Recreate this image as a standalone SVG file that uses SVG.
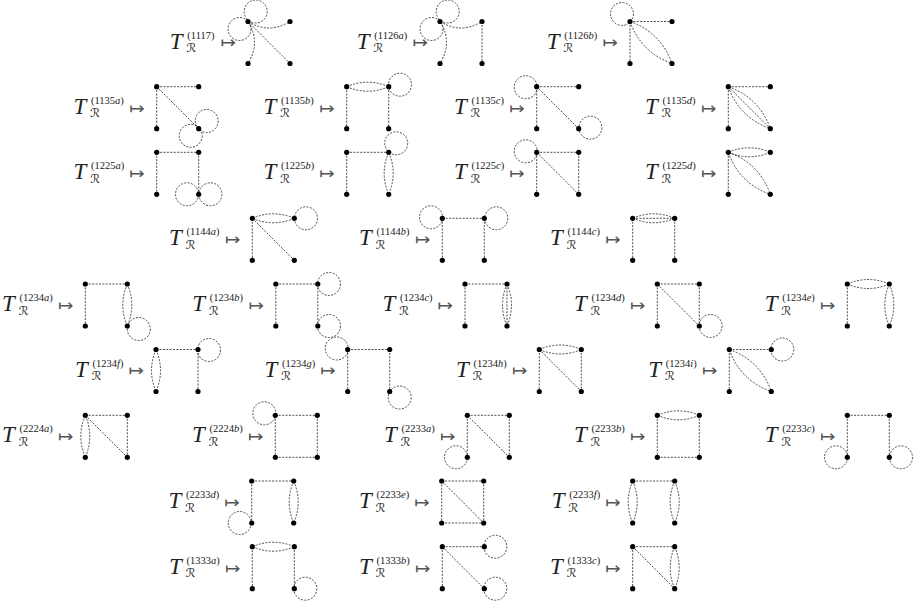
<svg xmlns="http://www.w3.org/2000/svg" xmlns:xlink="http://www.w3.org/1999/xlink" width="915" height="602" viewBox="0 0 915 602">
<style>
.lab{font-family:"Liberation Serif",serif;font-size:23px;font-style:italic;fill:#222}
.sup{font-size:10.5px;font-style:normal}
.it{font-style:italic}
.sub{font-family:"DejaVu Serif","DejaVu Sans",serif;font-size:12px;font-style:normal}
.arr{font-family:"DejaVu Sans",sans-serif;font-size:16px;fill:#555;text-anchor:end;transform-box:fill-box;transform-origin:right center;transform:scaleX(1.15)}
.e{fill:none;stroke:#111;stroke-width:0.75;stroke-dasharray:2 1.4}
.n{fill:#000}
</style>
<defs>
<path id="h" d="M0,0H42"/>
<path id="v" d="M0,0V42"/>
<path id="d" d="M0,0L42,42"/>
<path id="hl" d="M0,0Q21,-9 42,0M0,0Q21,9 42,0"/>
<path id="vl" d="M0,0Q9,21 0,42M0,0Q-9,21 0,42"/>
<path id="dl" d="M0,0Q31,11 42,42M0,0Q11,31 42,42"/>
<path id="cr" d="M0,0Q21,13 42,0"/>
<path id="cd" d="M0,0Q13,21 0,42"/>
<circle id="lp" r="11.5"/>
<g id="V" class="n"><circle r="2.6"/><circle cx="42" r="2.6"/><circle cy="42" r="2.6"/><circle cx="42" cy="42" r="2.6"/></g>
</defs>
<rect width="915" height="602" fill="#fff"/>

<g id="i1117"><text class="lab" transform="translate(169.8,42.5)"><tspan x="0" y="6">T</tspan><tspan class="sub" x="16.5" y="9.5">ℛ</tspan><tspan class="sup" x="17.5" y="-4">(1117)</tspan></text>
<g transform="translate(248,21.5)"><text class="arr" x="-12" y="27">↦</text><g class="e"><use href="#cr"/><use href="#cd"/><use href="#d"/><use href="#lp" x="7.7" y="-10"/><use href="#lp" x="-8.5" y="7.5"/></g><use href="#V"/></g></g>

<g id="i1126a"><text class="lab" transform="translate(356.8,42.5)"><tspan x="0" y="6">T</tspan><tspan class="sub" x="16.5" y="9.5">ℛ</tspan><tspan class="sup" x="17.5" y="-4">(1126<tspan class="it">a</tspan>)</tspan></text>
<g transform="translate(440,21.5)"><text class="arr" x="-12" y="27">↦</text><g class="e"><use href="#cr"/><use href="#cd"/><use href="#v" x="42"/><use href="#lp" x="7.7" y="-10"/><use href="#lp" x="-8.5" y="7.5"/></g><use href="#V"/></g></g>

<g id="i1126b"><text class="lab" transform="translate(546.8,42.5)"><tspan x="0" y="6">T</tspan><tspan class="sub" x="16.5" y="9.5">ℛ</tspan><tspan class="sup" x="17.5" y="-4">(1126<tspan class="it">b</tspan>)</tspan></text>
<g transform="translate(630,21.5)"><text class="arr" x="-12" y="27">↦</text><g class="e"><use href="#h"/><use href="#v"/><use href="#dl"/><use href="#lp" x="-8" y="-7.5"/></g><use href="#V"/></g></g>

<g id="i1135a"><text class="lab" transform="translate(73.5,107.7)"><tspan x="0" y="6">T</tspan><tspan class="sub" x="16.5" y="9.5">ℛ</tspan><tspan class="sup" x="17.5" y="-4">(1135<tspan class="it">a</tspan>)</tspan></text>
<g transform="translate(156.7,86.7)"><text class="arr" x="-12" y="27">↦</text><g class="e"><use href="#h"/><use href="#v"/><use href="#d"/><use href="#lp" x="50" y="34.3"/><use href="#lp" x="34" y="49.1"/></g><use href="#V"/></g></g>

<g id="i1135b"><text class="lab" transform="translate(263.5,107.7)"><tspan x="0" y="6">T</tspan><tspan class="sub" x="16.5" y="9.5">ℛ</tspan><tspan class="sup" x="17.5" y="-4">(1135<tspan class="it">b</tspan>)</tspan></text>
<g transform="translate(346.7,86.7)"><text class="arr" x="-12" y="27">↦</text><g class="e"><use href="#hl"/><use href="#v"/><use href="#v" x="42"/><use href="#lp" x="53.3" y="-2"/></g><use href="#V"/></g></g>

<g id="i1135c"><text class="lab" transform="translate(454.1,107.7)"><tspan x="0" y="6">T</tspan><tspan class="sub" x="16.5" y="9.5">ℛ</tspan><tspan class="sup" x="17.5" y="-4">(1135<tspan class="it">c</tspan>)</tspan></text>
<g transform="translate(536.7,86.7)"><text class="arr" x="-12" y="27">↦</text><g class="e"><use href="#h"/><use href="#v"/><use href="#d"/><use href="#lp" x="-11" y="0.5"/><use href="#lp" x="53.7" y="41"/></g><use href="#V"/></g></g>

<g id="i1135d"><text class="lab" transform="translate(645.1,107.7)"><tspan x="0" y="6">T</tspan><tspan class="sub" x="16.5" y="9.5">ℛ</tspan><tspan class="sup" x="17.5" y="-4">(1135<tspan class="it">d</tspan>)</tspan></text>
<g transform="translate(728.3,86.7)"><text class="arr" x="-12" y="27">↦</text><g class="e"><use href="#h"/><use href="#v"/><use href="#d"/><use href="#dl"/></g><use href="#V"/></g></g>

<g id="i1225a"><text class="lab" transform="translate(73.5,173.3)"><tspan x="0" y="6">T</tspan><tspan class="sub" x="16.5" y="9.5">ℛ</tspan><tspan class="sup" x="17.5" y="-4">(1225<tspan class="it">a</tspan>)</tspan></text>
<g transform="translate(156.7,152.3)"><text class="arr" x="-12" y="27">↦</text><g class="e"><use href="#h"/><use href="#v"/><use href="#v" x="42"/><use href="#lp" x="30.3" y="42"/><use href="#lp" x="53.7" y="42"/></g><use href="#V"/></g></g>

<g id="i1225b"><text class="lab" transform="translate(263.5,173.3)"><tspan x="0" y="6">T</tspan><tspan class="sub" x="16.5" y="9.5">ℛ</tspan><tspan class="sup" x="17.5" y="-4">(1225<tspan class="it">b</tspan>)</tspan></text>
<g transform="translate(346.7,152.3)"><text class="arr" x="-12" y="27">↦</text><g class="e"><use href="#h"/><use href="#v"/><use href="#vl" x="42"/><use href="#lp" x="49.5" y="-9"/></g><use href="#V"/></g></g>

<g id="i1225c"><text class="lab" transform="translate(454.1,173.3)"><tspan x="0" y="6">T</tspan><tspan class="sub" x="16.5" y="9.5">ℛ</tspan><tspan class="sup" x="17.5" y="-4">(1225<tspan class="it">c</tspan>)</tspan></text>
<g transform="translate(536.7,152.3)"><text class="arr" x="-12" y="27">↦</text><g class="e"><use href="#h"/><use href="#v"/><use href="#d"/><use href="#v" x="42"/><use href="#lp" x="-11" y="-1"/></g><use href="#V"/></g></g>

<g id="i1225d"><text class="lab" transform="translate(645.1,173.3)"><tspan x="0" y="6">T</tspan><tspan class="sub" x="16.5" y="9.5">ℛ</tspan><tspan class="sup" x="17.5" y="-4">(1225<tspan class="it">d</tspan>)</tspan></text>
<g transform="translate(728.3,152.3)"><text class="arr" x="-12" y="27">↦</text><g class="e"><use href="#hl"/><use href="#v"/><use href="#dl"/></g><use href="#V"/></g></g>

<g id="i1144a"><text class="lab" transform="translate(169.1,239.3)"><tspan x="0" y="6">T</tspan><tspan class="sub" x="16.5" y="9.5">ℛ</tspan><tspan class="sup" x="17.5" y="-4">(1144<tspan class="it">a</tspan>)</tspan></text>
<g transform="translate(252.3,218.3)"><text class="arr" x="-12" y="27">↦</text><g class="e"><use href="#hl"/><use href="#v"/><use href="#d"/><use href="#lp" x="53.7" y="0"/></g><use href="#V"/></g></g>

<g id="i1144b"><text class="lab" transform="translate(359.1,239.3)"><tspan x="0" y="6">T</tspan><tspan class="sub" x="16.5" y="9.5">ℛ</tspan><tspan class="sup" x="17.5" y="-4">(1144<tspan class="it">b</tspan>)</tspan></text>
<g transform="translate(442.3,218.3)"><text class="arr" x="-12" y="27">↦</text><g class="e"><use href="#h"/><use href="#v"/><use href="#v" x="42"/><use href="#lp" x="-11.3" y="-1"/><use href="#lp" x="54" y="0"/></g><use href="#V"/></g></g>

<g id="i1144c"><text class="lab" transform="translate(550.1,239.3)"><tspan x="0" y="6">T</tspan><tspan class="sub" x="16.5" y="9.5">ℛ</tspan><tspan class="sup" x="17.5" y="-4">(1144<tspan class="it">c</tspan>)</tspan></text>
<g transform="translate(632.7,218.3)"><text class="arr" x="-12" y="27">↦</text><g class="e"><use href="#hl"/><use href="#h"/><use href="#v"/><use href="#v" x="42"/></g><use href="#V"/></g></g>

<g id="i1234a"><text class="lab" transform="translate(2.1,305)"><tspan x="0" y="6">T</tspan><tspan class="sub" x="16.5" y="9.5">ℛ</tspan><tspan class="sup" x="17.5" y="-4">(1234<tspan class="it">a</tspan>)</tspan></text>
<g transform="translate(85.3,284)"><text class="arr" x="-12" y="27">↦</text><g class="e"><use href="#h"/><use href="#v"/><use href="#vl" x="42"/><use href="#lp" x="53.5" y="45"/></g><use href="#V"/></g></g>

<g id="i1234b"><text class="lab" transform="translate(192.3,305)"><tspan x="0" y="6">T</tspan><tspan class="sub" x="16.5" y="9.5">ℛ</tspan><tspan class="sup" x="17.5" y="-4">(1234<tspan class="it">b</tspan>)</tspan></text>
<g transform="translate(275.8,284)"><text class="arr" x="-12" y="27">↦</text><g class="e"><use href="#h"/><use href="#v"/><use href="#v" x="42"/><use href="#lp" x="53.2" y="0"/><use href="#lp" x="53.2" y="42"/></g><use href="#V"/></g></g>

<g id="i1234c"><text class="lab" transform="translate(382.4,305)"><tspan x="0" y="6">T</tspan><tspan class="sub" x="16.5" y="9.5">ℛ</tspan><tspan class="sup" x="17.5" y="-4">(1234<tspan class="it">c</tspan>)</tspan></text>
<g transform="translate(465,284)"><text class="arr" x="-12" y="27">↦</text><g class="e"><use href="#h"/><use href="#v"/><use href="#vl" x="42"/><use href="#v" x="42"/></g><use href="#V"/></g></g>

<g id="i1234d"><text class="lab" transform="translate(574.1,305)"><tspan x="0" y="6">T</tspan><tspan class="sub" x="16.5" y="9.5">ℛ</tspan><tspan class="sup" x="17.5" y="-4">(1234<tspan class="it">d</tspan>)</tspan></text>
<g transform="translate(657.3,284)"><text class="arr" x="-12" y="27">↦</text><g class="e"><use href="#h"/><use href="#v"/><use href="#d"/><use href="#v" x="42"/><use href="#lp" x="53.3" y="42"/></g><use href="#V"/></g></g>

<g id="i1234e"><text class="lab" transform="translate(764.7,305)"><tspan x="0" y="6">T</tspan><tspan class="sub" x="16.5" y="9.5">ℛ</tspan><tspan class="sup" x="17.5" y="-4">(1234<tspan class="it">e</tspan>)</tspan></text>
<g transform="translate(847.3,284)"><text class="arr" x="-12" y="27">↦</text><g class="e"><use href="#hl"/><use href="#v"/><use href="#vl" x="42"/></g><use href="#V"/></g></g>

<g id="i1234f"><text class="lab" transform="translate(75.05,370.5)"><tspan x="0" y="6">T</tspan><tspan class="sub" x="16.5" y="9.5">ℛ</tspan><tspan class="sup" x="17.5" y="-4">(1234<tspan class="it">f</tspan>)</tspan></text>
<g transform="translate(156,349.5)"><text class="arr" x="-12" y="27">↦</text><g class="e"><use href="#h"/><use href="#vl"/><use href="#v" x="42"/><use href="#lp" x="53" y="0.5"/></g><use href="#V"/></g></g>

<g id="i1234g"><text class="lab" transform="translate(264.5,370.5)"><tspan x="0" y="6">T</tspan><tspan class="sub" x="16.5" y="9.5">ℛ</tspan><tspan class="sup" x="17.5" y="-4">(1234<tspan class="it">g</tspan>)</tspan></text>
<g transform="translate(347.7,349.5)"><text class="arr" x="-12" y="27">↦</text><g class="e"><use href="#h"/><use href="#v"/><use href="#v" x="42"/><use href="#lp" x="-11" y="-1"/><use href="#lp" x="52" y="48"/></g><use href="#V"/></g></g>

<g id="i1234h"><text class="lab" transform="translate(456.1,370.5)"><tspan x="0" y="6">T</tspan><tspan class="sub" x="16.5" y="9.5">ℛ</tspan><tspan class="sup" x="17.5" y="-4">(1234<tspan class="it">h</tspan>)</tspan></text>
<g transform="translate(539.3,349.5)"><text class="arr" x="-12" y="27">↦</text><g class="e"><use href="#hl"/><use href="#v"/><use href="#d"/><use href="#v" x="42"/></g><use href="#V"/></g></g>

<g id="i1234i"><text class="lab" transform="translate(648.35,370.5)"><tspan x="0" y="6">T</tspan><tspan class="sub" x="16.5" y="9.5">ℛ</tspan><tspan class="sup" x="17.5" y="-4">(1234<tspan class="it">i</tspan>)</tspan></text>
<g transform="translate(729.3,349.5)"><text class="arr" x="-12" y="27">↦</text><g class="e"><use href="#h"/><use href="#v"/><use href="#dl"/><use href="#lp" x="53" y="0"/></g><use href="#V"/></g></g>

<g id="i2224a"><text class="lab" transform="translate(2.1,436.3)"><tspan x="0" y="6">T</tspan><tspan class="sub" x="16.5" y="9.5">ℛ</tspan><tspan class="sup" x="17.5" y="-4">(2224<tspan class="it">a</tspan>)</tspan></text>
<g transform="translate(85.3,415.3)"><text class="arr" x="-12" y="27">↦</text><g class="e"><use href="#h"/><use href="#vl"/><use href="#d"/><use href="#v" x="42"/></g><use href="#V"/></g></g>

<g id="i2224b"><text class="lab" transform="translate(192.1,436.3)"><tspan x="0" y="6">T</tspan><tspan class="sub" x="16.5" y="9.5">ℛ</tspan><tspan class="sup" x="17.5" y="-4">(2224<tspan class="it">b</tspan>)</tspan></text>
<g transform="translate(275.3,415.3)"><text class="arr" x="-12" y="27">↦</text><g class="e"><use href="#h"/><use href="#h" y="42"/><use href="#v"/><use href="#v" x="42"/><use href="#lp" x="-11" y="-2"/></g><use href="#V"/></g></g>

<g id="i2233a"><text class="lab" transform="translate(384.1,436.3)"><tspan x="0" y="6">T</tspan><tspan class="sub" x="16.5" y="9.5">ℛ</tspan><tspan class="sup" x="17.5" y="-4">(2233<tspan class="it">a</tspan>)</tspan></text>
<g transform="translate(467.3,415.3)"><text class="arr" x="-12" y="27">↦</text><g class="e"><use href="#h"/><use href="#v"/><use href="#d"/><use href="#v" x="42"/><use href="#lp" x="-11.3" y="42"/></g><use href="#V"/></g></g>

<g id="i2233b"><text class="lab" transform="translate(574.1,436.3)"><tspan x="0" y="6">T</tspan><tspan class="sub" x="16.5" y="9.5">ℛ</tspan><tspan class="sup" x="17.5" y="-4">(2233<tspan class="it">b</tspan>)</tspan></text>
<g transform="translate(657.3,415.3)"><text class="arr" x="-12" y="27">↦</text><g class="e"><use href="#hl"/><use href="#v"/><use href="#v" x="42"/><use href="#h" y="42"/></g><use href="#V"/></g></g>

<g id="i2233c"><text class="lab" transform="translate(764.7,436.3)"><tspan x="0" y="6">T</tspan><tspan class="sub" x="16.5" y="9.5">ℛ</tspan><tspan class="sup" x="17.5" y="-4">(2233<tspan class="it">c</tspan>)</tspan></text>
<g transform="translate(847.3,415.3)"><text class="arr" x="-12" y="27">↦</text><g class="e"><use href="#h"/><use href="#v"/><use href="#v" x="42"/><use href="#lp" x="-11.3" y="42"/><use href="#lp" x="53.7" y="42"/></g><use href="#V"/></g></g>

<g id="i2233d"><text class="lab" transform="translate(168.5,502)"><tspan x="0" y="6">T</tspan><tspan class="sub" x="16.5" y="9.5">ℛ</tspan><tspan class="sup" x="17.5" y="-4">(2233<tspan class="it">d</tspan>)</tspan></text>
<g transform="translate(251.7,481)"><text class="arr" x="-12" y="27">↦</text><g class="e"><use href="#h"/><use href="#v"/><use href="#vl" x="42"/><use href="#lp" x="-12" y="42"/></g><use href="#V"/></g></g>

<g id="i2233e"><text class="lab" transform="translate(359.1,502)"><tspan x="0" y="6">T</tspan><tspan class="sub" x="16.5" y="9.5">ℛ</tspan><tspan class="sup" x="17.5" y="-4">(2233<tspan class="it">e</tspan>)</tspan></text>
<g transform="translate(441.7,481)"><text class="arr" x="-12" y="27">↦</text><g class="e"><use href="#h"/><use href="#v"/><use href="#d"/><use href="#v" x="42"/><use href="#h" y="42"/></g><use href="#V"/></g></g>

<g id="i2233f"><text class="lab" transform="translate(551.75,502)"><tspan x="0" y="6">T</tspan><tspan class="sub" x="16.5" y="9.5">ℛ</tspan><tspan class="sup" x="17.5" y="-4">(2233<tspan class="it">f</tspan>)</tspan></text>
<g transform="translate(632.7,481)"><text class="arr" x="-12" y="27">↦</text><g class="e"><use href="#h"/><use href="#vl"/><use href="#vl" x="42"/></g><use href="#V"/></g></g>

<g id="i1333a"><text class="lab" transform="translate(169.1,567.7)"><tspan x="0" y="6">T</tspan><tspan class="sub" x="16.5" y="9.5">ℛ</tspan><tspan class="sup" x="17.5" y="-4">(1333<tspan class="it">a</tspan>)</tspan></text>
<g transform="translate(252.3,546.7)"><text class="arr" x="-12" y="27">↦</text><g class="e"><use href="#hl"/><use href="#v"/><use href="#v" x="42"/><use href="#lp" x="53" y="42"/></g><use href="#V"/></g></g>

<g id="i1333b"><text class="lab" transform="translate(359.1,567.7)"><tspan x="0" y="6">T</tspan><tspan class="sub" x="16.5" y="9.5">ℛ</tspan><tspan class="sup" x="17.5" y="-4">(1333<tspan class="it">b</tspan>)</tspan></text>
<g transform="translate(442.3,546.7)"><text class="arr" x="-12" y="27">↦</text><g class="e"><use href="#h"/><use href="#v"/><use href="#d"/><use href="#lp" x="53" y="0"/><use href="#lp" x="53" y="42"/></g><use href="#V"/></g></g>

<g id="i1333c"><text class="lab" transform="translate(550.1,567.7)"><tspan x="0" y="6">T</tspan><tspan class="sub" x="16.5" y="9.5">ℛ</tspan><tspan class="sup" x="17.5" y="-4">(1333<tspan class="it">c</tspan>)</tspan></text>
<g transform="translate(632.7,546.7)"><text class="arr" x="-12" y="27">↦</text><g class="e"><use href="#h"/><use href="#v"/><use href="#d"/><use href="#vl" x="42"/></g><use href="#V"/></g></g>
</svg>
